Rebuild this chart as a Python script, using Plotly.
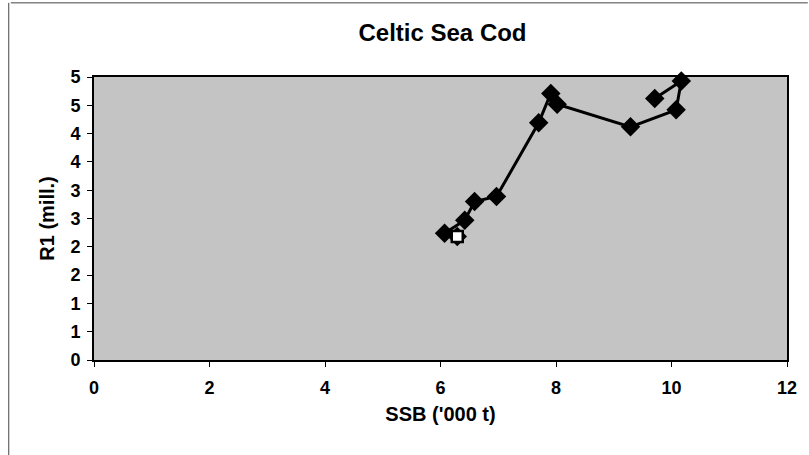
import plotly.graph_objects as go

# Stock-recruitment trajectory: spawning stock biomass vs. recruits at age 1
ssb = [6.29, 6.07, 6.42, 6.59, 6.97, 7.70, 7.91, 8.02, 9.29, 10.08, 10.17, 9.71]
r1 = [2.18, 2.24, 2.47, 2.80, 2.89, 4.19, 4.71, 4.52, 4.12, 4.42, 4.93, 4.62]

x_ticks = [0, 2, 4, 6, 8, 10, 12]
y_tickvals = [0, 0.5, 1, 1.5, 2, 2.5, 3, 3.5, 4, 4.5, 5]
y_ticktext = ["0", "1", "1", "2", "2", "3", "3", "4", "4", "5", "5"]

FONT = "Arial, Liberation Sans, sans-serif"

fig = go.Figure()

# connected series with filled diamonds
fig.add_trace(go.Scatter(
    x=ssb, y=r1, mode="lines+markers",
    line=dict(color="black", width=3),
    marker=dict(symbol="diamond", size=15, color="black"),
    cliponaxis=False, showlegend=False,
))
# first year highlighted with an open square
fig.add_trace(go.Scatter(
    x=ssb[:1], y=r1[:1], mode="markers",
    marker=dict(symbol="square", size=11, color="white",
                line=dict(color="black", width=2.5)),
    showlegend=False,
))

fig.update_layout(
    width=809, height=455,
    margin=dict(l=94, r=18, t=77, b=95),
    paper_bgcolor="white",
    plot_bgcolor="#c4c4c4",
    font=dict(family=FONT, color="black"),
    title=dict(text="<b>Celtic Sea Cod</b>", x=0.547, xanchor="center",
               y=0.928, yanchor="middle", font=dict(size=24, family=FONT)),
    xaxis=dict(
        range=[0, 12], tickvals=x_ticks, ticktext=[f"<b>{v}</b>" for v in x_ticks],
        showgrid=False, zeroline=False,
        showline=True, linecolor="black", linewidth=2, mirror=True,
        ticks="outside", ticklen=5, tickcolor="black", tickwidth=1,
        tickfont=dict(size=18), ticklabelstandoff=5,
        title=dict(text="<b>SSB ('000 t)</b>", font=dict(size=20), standoff=10),
    ),
    yaxis=dict(
        range=[0, 5], tickvals=y_tickvals, ticktext=[f"<b>{t}</b>" for t in y_ticktext],
        showgrid=False, zeroline=False,
        showline=True, linecolor="black", linewidth=2, mirror=True,
        ticks="outside", ticklen=5, tickcolor="black", tickwidth=1,
        tickfont=dict(size=18), ticklabelstandoff=3,
        title=dict(text="<b>R1 (mill.)</b>", font=dict(size=20), standoff=10),
    ),
    shapes=[
        dict(type="line", xref="paper", yref="paper",
             x0=-0.12, x1=1.03, y0=1.262, y1=1.262,
             line=dict(color="#444444", width=1)),
        dict(type="line", xref="paper", yref="paper",
             x0=-0.123, x1=-0.123, y0=1.262, y1=-0.34,
             line=dict(color="#444444", width=1)),
    ],
)

fig.write_html("out.html")
